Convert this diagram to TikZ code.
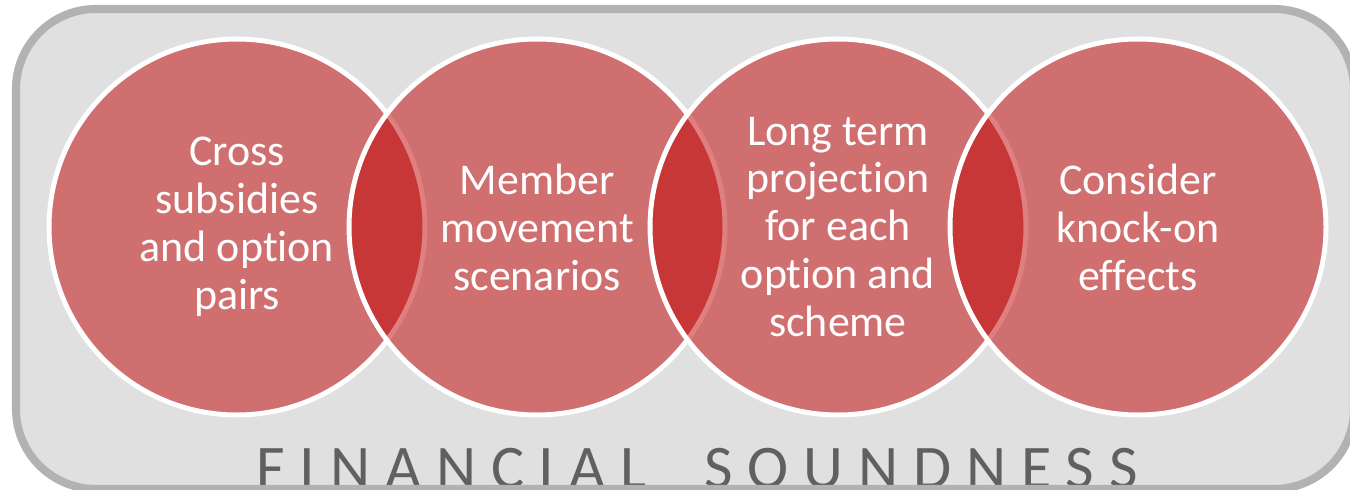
\documentclass[tikz,border=0pt]{standalone}
\usepackage{fontspec}
\setmainfont{Carlito}[Ligatures=CommonOff]
\definecolor{boxfill}{RGB}{224,224,224}
\definecolor{boxline}{RGB}{178,178,178}
\definecolor{vennred}{RGB}{192,0,0}
\definecolor{titlegrey}{RGB}{96,96,96}
\tikzset{
  venn/.style={circle, draw=white, line width=2.8pt, fill=vennred,
    fill opacity=0.5, draw opacity=1, minimum size=7.52cm, inner sep=0pt},
  vlabel/.style={text=white, align=center,
    font=\fontsize{25}{27.3}\selectfont},
  title/.style={text=titlegrey, inner sep=0pt, anchor=base,
    font=\fontsize{35.3}{40}\selectfont\addfontfeature{LetterSpace=24}},
  outer/.style={rounded corners=1.6cm}
}
\begin{document}
\begin{tikzpicture}[x=0.02cm, y=-0.02cm]
\useasboundingbox (0,0) rectangle (1350,490);
% grey panel, caption, then its rim on top
\fill[boxfill, outer] (16,9) rectangle (1354,489);
\node[title] (fs) at (697,488) {FINANCIAL\hspace{33pt}SOUNDNESS};
\draw[boxline, line width=4.6pt, outer] (16,9) rectangle (1354,489);
% the four circles, each one over the last
\foreach \n/\x in {1/237,2/537,3/838,4/1138}
  \node[venn] (c\n) at (\x,227) {};
\node[vlabel] (t1) at (c1) {Cross\\subsidies\\and option\\pairs};
\node[vlabel] (t2) at (c2) {Member\\movement\\scenarios};
\node[vlabel] (t3) at (c3) {Long term\\projection\\for each\\option and\\scheme};
\node[vlabel] (t4) at (c4) {Consider\\knock-on\\effects};
\end{tikzpicture}
\end{document}
